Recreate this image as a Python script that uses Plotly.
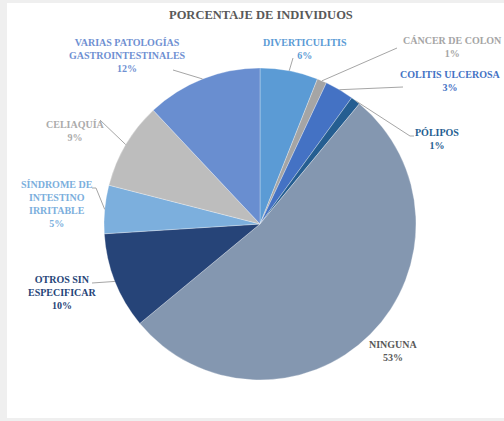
import math
import plotly.graph_objects as go

# Data
categorias = [
    "DIVERTICULITIS", "CÁNCER DE COLON", "COLITIS ULCEROSA", "PÓLIPOS",
    "NINGUNA", "OTROS SIN ESPECIFICAR", "SÍNDROME DE INTESTINO IRRITABLE",
    "CELIAQUÍA", "VARIAS PATOLOGÍAS GASTROINTESTINALES",
]
porcentajes = [6, 1, 3, 1, 53, 10, 5, 9, 12]
etiquetas = [
    "DIVERTICULITIS", "CÁNCER DE COLON", "COLITIS ULCEROSA", "PÓLIPOS",
    "NINGUNA", "OTROS SIN<br>ESPECIFICAR", "SÍNDROME DE<br>INTESTINO<br>IRRITABLE",
    "CELIAQUÍA", "VARIAS PATOLOGÍAS<br>GASTROINTESTINALES",
]

# Styling
colores = ["#5B9BD5", "#A5A5A5", "#4472C4", "#255E91", "#8497B0",
           "#264478", "#7CAFDD", "#BDBDBD", "#698ED0"]
colores_texto = ["#5B9BD5", "#A5A5A5", "#4472C4", "#255E91", "#595959",
                 "#264478", "#7CAFDD", "#ABABAB", "#6F90D2"]
SERIF = "Liberation Serif, Times New Roman, DejaVu Serif, serif"

W, H = 504, 421
# Plot area (pixels) holding the pie
L, R, T, B = 104, 416, 68, 380
CX, CY, RAD = (L + R) / 2, (T + B) / 2, (R - L) / 2


def px(x):
    return (x - L) / (R - L)


def py(y):
    return (B - y) / (B - T)


# Label anchors (pixels): x, y, xanchor, and leader-line waypoints near the label
label_pos = [
    (305, 49, "center", [(293, 58)]),
    (452, 47, "center", [(397, 48)]),
    (503, 81, "right", [(403, 87)]),
    (437, 139, "center", [(414, 136), (410, 136)]),
    (393, 351, "center", None),
    (62, 292, "center", [(92, 283)]),
    (57, 204, "center", [(92, 188), (96, 188)]),
    (75, 131, "center", [(100, 120)]),
    (127, 56, "center", [(173, 70)]),
]

fig = go.Figure(go.Pie(
    labels=categorias,
    values=porcentajes,
    sort=False,
    direction="clockwise",
    rotation=0,
    marker=dict(colors=colores, line=dict(color="white", width=0.3)),
    textinfo="none",
    hoverinfo="label+percent",
    showlegend=False,
    domain=dict(x=[0, 1], y=[0, 1]),
))

annotations = [dict(
    text="<b>PORCENTAJE DE INDIVIDUOS</b>", x=px(261), y=py(15),
    xref="paper", yref="paper", showarrow=False, xanchor="center", yanchor="middle",
    font=dict(family=SERIF, size=12.5, color="#595959"),
)]
shapes = []

total = sum(porcentajes)
acum = 0
for i, v in enumerate(porcentajes):
    mid = (acum + v / 2) / total * 2 * math.pi
    acum += v
    ex = CX + RAD * math.sin(mid)
    ey = CY - RAD * math.cos(mid)
    lx, ly, xa, guia = label_pos[i]
    pct = round(v / total * 100)
    annotations.append(dict(
        text=f"<b>{etiquetas[i]}<br>{pct}%</b>", x=px(lx), y=py(ly),
        xref="paper", yref="paper", showarrow=False, xanchor=xa, yanchor="middle",
        align="center",
        font=dict(family=SERIF, size=10, color=colores_texto[i]),
    ))
    if guia:
        pts = [(ex, ey)] + guia[::-1] if len(guia) > 1 else [(ex, ey)] + guia
        path = "M " + " L ".join(f"{px(a)},{py(b)}" for a, b in pts)
        shapes.append(dict(type="path", path=path, xref="paper", yref="paper",
                           line=dict(color="#A6A6A6", width=1)))

# light frame strips along the page edges
for x0, y0, x1, y1 in [(0, 0, 7, H), (0, 0, W, 3), (0, 418, W, H)]:
    shapes.append(dict(type="rect", xref="paper", yref="paper",
                       x0=px(x0), x1=px(x1), y0=py(y0), y1=py(y1),
                       fillcolor="#EFEFEF", line=dict(width=0), layer="below"))

fig.update_layout(
    width=W, height=H,
    margin=dict(l=L, r=W - R, t=T, b=H - B),
    paper_bgcolor="white",
    plot_bgcolor="white",
    annotations=annotations,
    shapes=shapes,
)

fig.write_html("out.html")
